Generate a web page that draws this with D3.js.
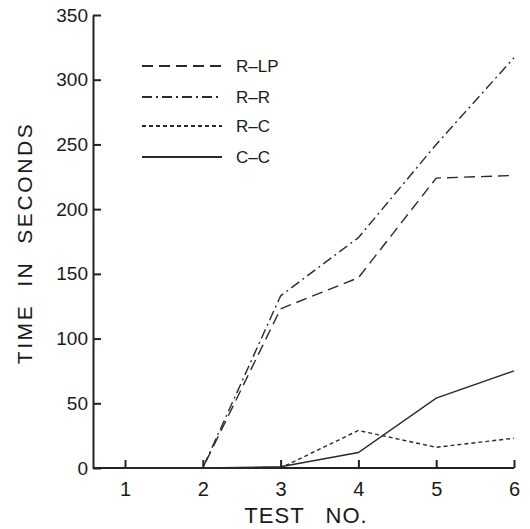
<!DOCTYPE html>
<html>
<head>
<meta charset="utf-8">
<script src="https://cdn.jsdelivr.net/npm/d3@7"></script>
<style>
  body { margin: 0; background: #fff; }
  text { font-family: "Liberation Sans", Arial, sans-serif; fill: #1a1a1a; }
</style>
</head>
<body>
<svg width="530" height="529"></svg>
<script>
// Data
var tests = [1, 2, 3, 4, 5, 6];
var rlp = [0, 0, 123, 147, 224, 226];
var rr  = [0, 0, 133, 178, 250, 317];
var rc  = [0, 0, 0, 29, 16, 23];
var cc  = [0, 0, 1, 12, 54, 75];
var seriesNames = ['R-LP', 'R-R', 'R-C', 'C-C'];
var yTicks = [0, 50, 100, 150, 200, 250, 300, 350];

var series = [
    {name: seriesNames[0], values: rlp, dash: '11,6'},
    {name: seriesNames[1], values: rr, dash: '10,4,2,4'},
    {name: seriesNames[2], values: rc, dash: '4,3'},
    {name: seriesNames[3], values: cc, dash: null}
];

var svg = d3.select('svg');

var xScale = d3.scaleLinear()
    .domain([1, 6])
    .range([125, 514]);

var yScale = d3.scaleLinear()
    .domain([0, 350])
    .range([468, 15]);

var axisLeftX = 93;

// y axis, ticks pointing inward
var yAxis = svg.append('g')
    .attr('transform', 'translate(' + axisLeftX + ',0)')
    .call(d3.axisRight(yScale).tickValues(yTicks).tickSize(8).tickSizeOuter(0));
yAxis.select('.domain').attr('stroke', '#222').attr('stroke-width', 2);
yAxis.selectAll('.tick line').attr('stroke', '#222').attr('stroke-width', 2);
yAxis.selectAll('.tick text')
    .attr('x', -5)
    .attr('text-anchor', 'end')
    .style('font-size', '19px');

// x axis, ticks pointing up
var xAxis = svg.append('g')
    .attr('transform', 'translate(0,' + yScale(0) + ')')
    .call(d3.axisTop(xScale).tickValues(tests).tickSize(8).tickSizeOuter(0).tickFormat(d3.format('d')));
xAxis.select('.domain').remove();
xAxis.append('line')
    .attr('x1', axisLeftX)
    .attr('x2', xScale(6))
    .attr('stroke', '#222')
    .attr('stroke-width', 2);
xAxis.selectAll('.tick line').attr('stroke', '#222').attr('stroke-width', 2);
xAxis.selectAll('.tick text')
    .attr('y', 14)
    .attr('dy', '0.71em')
    .style('font-size', '20px');

// axis titles
svg.append('text')
    .attr('transform', 'translate(32,243) rotate(-90)')
    .attr('text-anchor', 'middle')
    .style('font-size', '21px')
    .style('letter-spacing', '2.6px')
    .style('white-space', 'pre')
    .text('TIME  IN  SECONDS');

svg.append('text')
    .attr('x', 306)
    .attr('y', 523)
    .attr('text-anchor', 'middle')
    .style('font-size', '22px')
    .style('letter-spacing', '1px')
    .style('white-space', 'pre')
    .text('TEST   NO.');

// lines
var line = d3.line()
    .x(function(d, i) { return xScale(tests[i]); })
    .y(function(d) { return yScale(d); });

svg.selectAll('.series')
    .data(series)
    .enter()
    .append('path')
    .attr('class', 'series')
    .attr('d', function(d) { return line(d.values); })
    .attr('fill', 'none')
    .attr('stroke', '#2a2a2a')
    .attr('stroke-width', 1.4)
    .attr('stroke-dasharray', function(d) { return d.dash; });

// legend
var legendY = [66, 97, 126, 157];
var legend = svg.selectAll('.legend')
    .data(series)
    .enter()
    .append('g')
    .attr('class', 'legend')
    .attr('transform', function(d, i) { return 'translate(142,' + legendY[i] + ')'; });

legend.append('line')
    .attr('x1', 0)
    .attr('x2', 80)
    .attr('stroke', '#2a2a2a')
    .attr('stroke-width', 1.8)
    .attr('stroke-dasharray', function(d) { return d.dash; });

legend.append('text')
    .attr('x', 94)
    .attr('dy', '0.36em')
    .style('font-size', '17px')
    .text(function(d) { return d.name.replace('-', '\u2013'); });
</script>
</body>
</html>
